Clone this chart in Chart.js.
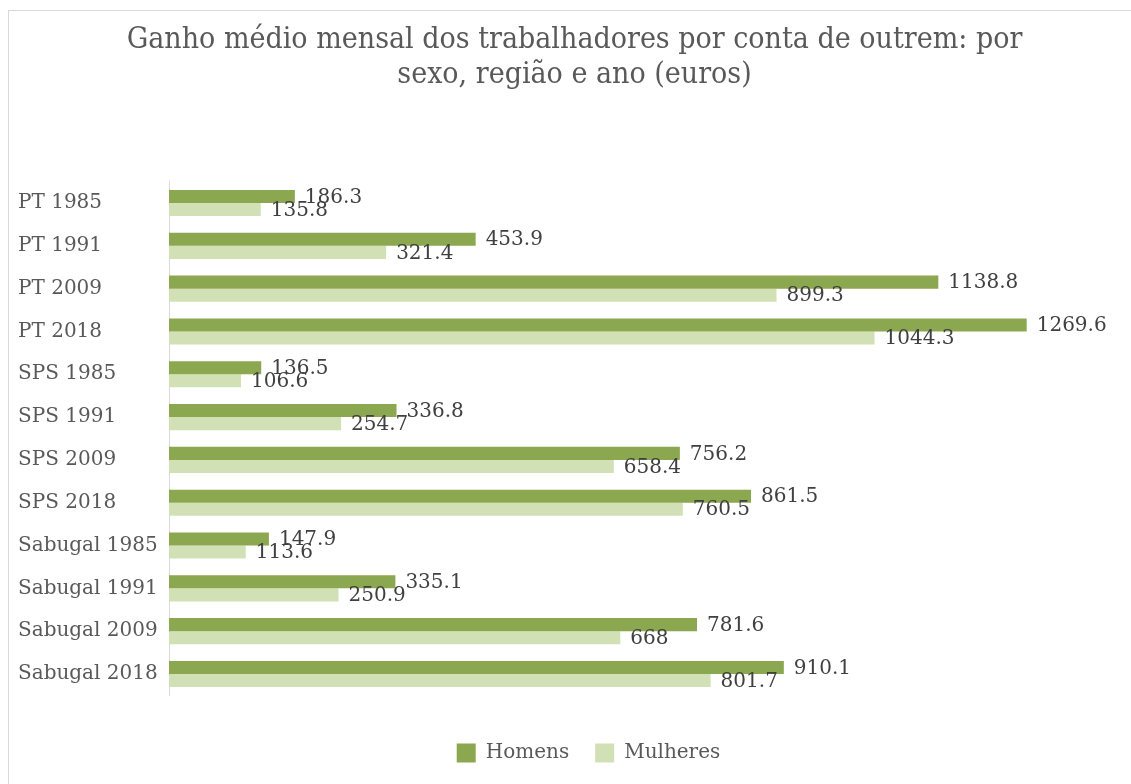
<!DOCTYPE html>
<html>
<head>
<meta charset="utf-8">
<script src="https://cdn.jsdelivr.net/npm/chart.js@4"></script>
<style>
  html, body { margin: 0; padding: 0; background: #fff; }
  #wrap { width: 1131px; height: 784px; position: relative; }
</style>
</head>
<body>
<div id="wrap"><canvas id="ganhoChart"></canvas></div>
<script>
const categories = [
  "PT 1985", "PT 1991", "PT 2009", "PT 2018",
  "SPS 1985", "SPS 1991", "SPS 2009", "SPS 2018",
  "Sabugal 1985", "Sabugal 1991", "Sabugal 2009", "Sabugal 2018"
];
const homens = [186.3, 453.9, 1138.8, 1269.6, 136.5, 336.8, 756.2, 861.5, 147.9, 335.1, 781.6, 910.1];
const mulheres = [135.8, 321.4, 899.3, 1044.3, 106.6, 254.7, 658.4, 760.5, 113.6, 250.9, 668, 801.7];
const titleLines = ["Ganho médio mensal dos trabalhadores por conta de outrem: por", "sexo, região e ano (euros)"];

const serif = "'DejaVu Serif', 'Liberation Serif', serif";
const condensed = "'DejaVu Serif Condensed', 'DejaVu Serif', serif";

// frame around the chart
const framePlugin = {
  id: 'frame',
  beforeDraw(chart) {
    const ctx = chart.ctx;
    ctx.save();
    ctx.strokeStyle = '#d9d9d9';
    ctx.lineWidth = 1;
    ctx.strokeRect(8.5, 10.5, chart.width, chart.height);
    ctx.restore();
  }
};

// legend sits a little right of centre in the original
const legendShift = {
  id: 'legendShift',
  afterLayout(chart) {
    if (chart.legend) {
      chart.legend.left += 14;
      chart.legend.right += 14;
    }
  }
};

// value labels at the end of each bar
const valueLabels = {
  id: 'valueLabels',
  afterDatasetsDraw(chart) {
    const ctx = chart.ctx;
    ctx.save();
    ctx.font = `20px ${serif}`;
    ctx.fillStyle = '#404040';
    ctx.textAlign = 'left';
    ctx.textBaseline = 'middle';
    chart.data.datasets.forEach((ds, i) => {
      const meta = chart.getDatasetMeta(i);
      meta.data.forEach((bar, j) => {
        ctx.fillText(String(ds.data[j]), bar.x + 10, bar.y + 1);
      });
    });
    ctx.restore();
  }
};

const ctx = document.getElementById('ganhoChart');
new Chart(ctx, {
  type: 'bar',
  data: {
    labels: categories,
    datasets: [
      { label: 'Homens', data: homens, backgroundColor: '#8BA74F', barPercentage: 1, categoryPercentage: 0.61 },
      { label: 'Mulheres', data: mulheres, backgroundColor: '#D1E0B5', barPercentage: 1, categoryPercentage: 0.61 }
    ]
  },
  options: {
    indexAxis: 'y',
    responsive: true,
    maintainAspectRatio: false,
    animation: false,
    layout: { padding: { left: 18, right: 0, top: 0, bottom: 11 } },
    scales: {
      x: {
        min: 0,
        max: 1424,
        grid: { display: false },
        border: { display: false },
        ticks: { display: false },
        afterFit: scale => { scale.height = 21.6; }
      },
      y: {
        grid: { display: false },
        border: { display: true, color: '#d9d9d9', width: 1 },
        ticks: { color: '#595959', crossAlign: 'far', font: { family: serif, size: 20 } },
        afterFit: scale => { scale.width = 151; }
      }
    },
    plugins: {
      title: {
        display: true,
        text: titleLines,
        color: '#595959',
        font: { family: condensed, size: 30, weight: 'normal', lineHeight: 1.17 },
        padding: { top: 23, bottom: 88.4 }
      },
      legend: {
        position: 'bottom',
        labels: {
          color: '#595959',
          boxWidth: 19,
          boxHeight: 19,
          padding: 26,
          font: { family: serif, size: 20 }
        }
      },
      tooltip: { enabled: false }
    }
  },
  plugins: [framePlugin, legendShift, valueLabels]
});
</script>
</body>
</html>
